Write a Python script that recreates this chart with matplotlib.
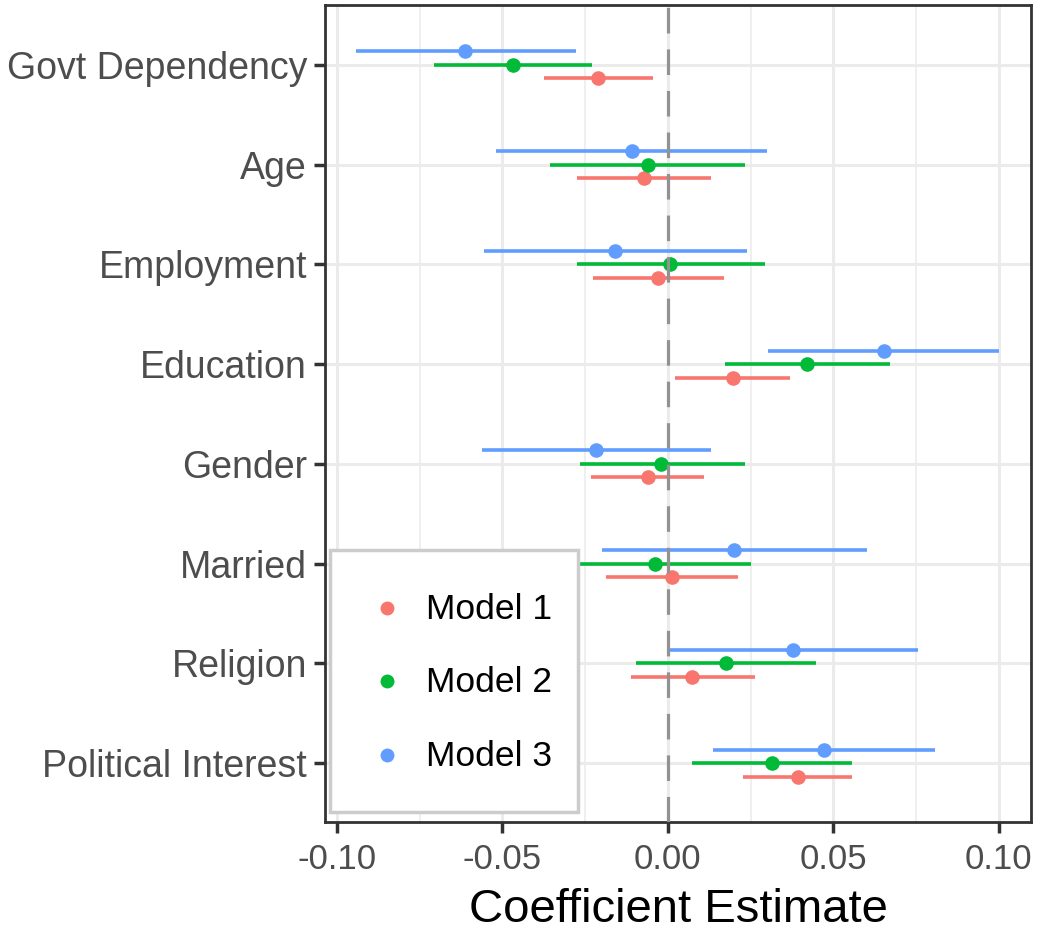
import matplotlib.pyplot as plt
from matplotlib.legend_handler import HandlerLine2D
from matplotlib.lines import Line2D

# predictors, listed top to bottom
terms = [
    "Govt Dependency",
    "Age",
    "Employment",
    "Education",
    "Gender",
    "Married",
    "Religion",
    "Political Interest",
]
models = ["Model 1", "Model 2", "Model 3"]
colors = ["#F8766D", "#00BA38", "#619CFF"]

# point estimates per model, in the order of `terms`
est_m1 = [-0.0211, -0.0072, -0.0031, 0.0196, -0.0061, 0.0011, 0.0073, 0.0392]
est_m2 = [-0.0469, -0.0061, 0.0007, 0.0420, -0.0021, -0.0039, 0.0176, 0.0315]
est_m3 = [-0.0613, -0.0108, -0.0159, 0.0652, -0.0218, 0.0201, 0.0377, 0.0471]

# lower / upper interval bounds
lo_m1 = [-0.0374, -0.0275, -0.0225, 0.0021, -0.0232, -0.0186, -0.0111, 0.0226]
hi_m1 = [-0.0046, 0.0129, 0.0168, 0.0369, 0.0110, 0.0212, 0.0263, 0.0557]
lo_m2 = [-0.0706, -0.0356, -0.0276, 0.0171, -0.0265, -0.0328, -0.0096, 0.0073]
hi_m2 = [-0.0229, 0.0234, 0.0294, 0.0672, 0.0232, 0.0250, 0.0446, 0.0555]
lo_m3 = [-0.0943, -0.0519, -0.0555, 0.0301, -0.0562, -0.0198, 0.0003, 0.0137]
hi_m3 = [-0.0279, 0.0300, 0.0240, 0.1000, 0.0129, 0.0602, 0.0756, 0.0807]

x_ticks = [-0.10, -0.05, 0.00, 0.05, 0.10]
x_minor = [-0.075, -0.025, 0.025, 0.075]

estimates = [est_m1, est_m2, est_m3]
lowers = [lo_m1, lo_m2, lo_m3]
uppers = [hi_m1, hi_m2, hi_m3]
dodge = [0.135, 0.0, -0.135]  # model 1 below, model 3 above


class DotHandler(HandlerLine2D):
    """Legend dot, nudged down so it sits level with the label."""
    drop = 14.4

    def create_artists(self, legend, orig_handle, xdescent, ydescent,
                       width, height, fontsize, trans):
        return super().create_artists(legend, orig_handle, xdescent,
                                      ydescent + self.drop, width, height,
                                      fontsize, trans)


plt.rcParams["font.family"] = ["Liberation Sans", "DejaVu Sans"]

fig = plt.figure(figsize=(10.41, 9.35), dpi=100)
ax = fig.add_axes([325 / 1041, 1 - 822 / 935, 706 / 1041, 817 / 935])

# grid, ggplot theme_bw style
for x in x_ticks:
    ax.axvline(x, color="#EBEBEB", lw=2.2, zorder=0)
for x in x_minor:
    ax.axvline(x, color="#EBEBEB", lw=1.1, zorder=0)
for i in range(len(terms)):
    ax.axhline(i, color="#EBEBEB", lw=2.2, zorder=0)

ypos = list(range(len(terms)))
for est, lo, hi, off, col in zip(estimates, lowers, uppers, dodge, colors):
    yy = [y + off for y in ypos]
    ax.hlines(yy, lo, hi, color=col, lw=2.6, zorder=2)
    ax.plot(est, yy, "o", color=col, ms=10.5, mec="none", zorder=3)

ax.axvline(0, color="#929292", lw=2.3, dashes=(8, 5), zorder=4)

ax.set_xlim(-0.1036, 0.1097)
ax.set_ylim(len(terms) - 0.41, -0.6)
ax.set_yticks(ypos)
ax.set_yticklabels(terms)
ax.set_xticks(x_ticks)
ax.set_xticklabels([f"{v:.2f}" for v in x_ticks])

ax.tick_params(axis="y", labelsize=27, labelcolor="#4D4D4D", length=8,
               width=2.5, color="#333333", pad=5)
ax.tick_params(axis="x", labelsize=25, labelcolor="#4D4D4D", length=8,
               width=2.5, color="#333333", pad=7)
ax.set_xlabel("Coefficient Estimate", fontsize=34, color="black", labelpad=9)

for s in ax.spines.values():
    s.set_color("#333333")
    s.set_linewidth(2)

handles = [
    Line2D([], [], ls="none", marker="o", ms=10, mec="none", color=c)
    for c in colors
]
leg = ax.legend(
    handles, models, loc="lower left", bbox_to_anchor=(0.007, 0.012),
    borderaxespad=0, fontsize=25.5, frameon=True, fancybox=False,
    borderpad=0.75, labelspacing=0.32, handleheight=2.32,
    handlelength=1.75, handletextpad=0.2,
    handler_map={Line2D: DotHandler()},
)
leg.get_frame().set_edgecolor("#CCCCCC")
leg.get_frame().set_linewidth(2.5)
leg.get_frame().set_alpha(1)
leg.set_zorder(10)

fig.savefig("out.png", dpi=100)
